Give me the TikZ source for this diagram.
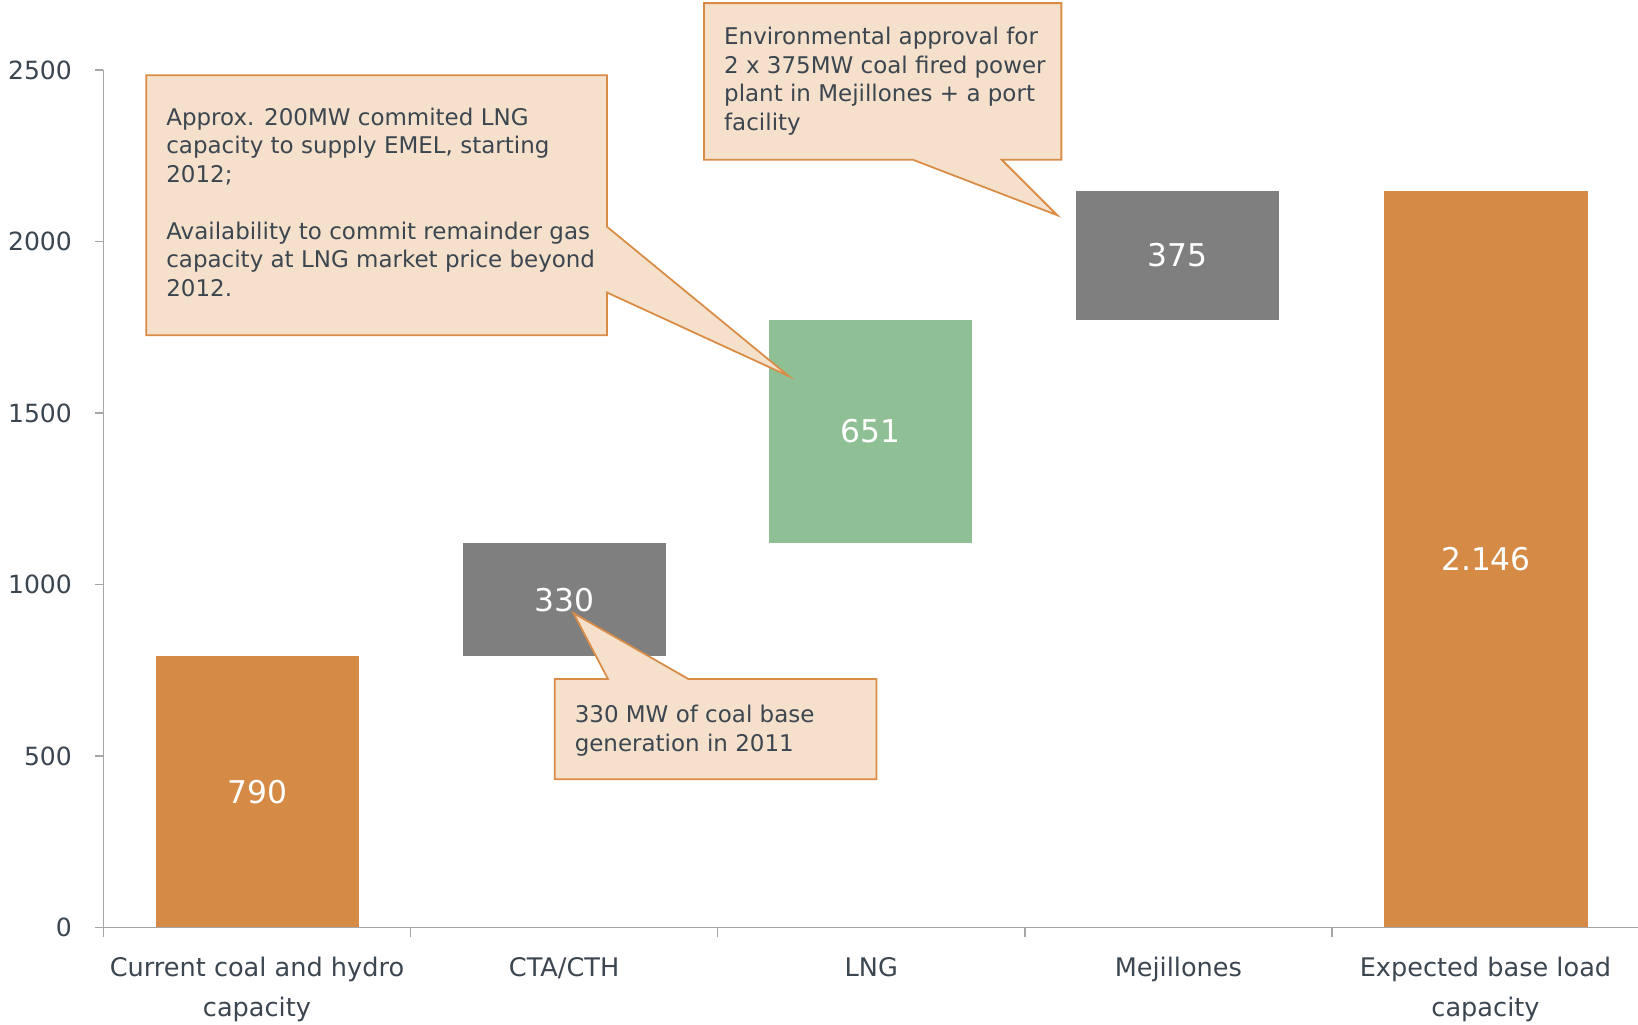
\documentclass[tikz,border=0pt]{standalone}
\usepackage{fontspec}
\setmainfont{DejaVu Sans}
\definecolor{barorange}{HTML}{D58A46}
\definecolor{bargray}{HTML}{7F7F7F}
\definecolor{bargreen}{HTML}{8FC095}
\definecolor{callfill}{HTML}{F5E0CC}
\definecolor{callline}{HTML}{D98C45}
\definecolor{txt}{HTML}{3C4650}
\definecolor{axisgray}{HTML}{A6A6A6}
\begin{document}
\begin{tikzpicture}[x=1pt,y=-1pt,
  bar/.style={rectangle, inner sep=0pt, minimum width=194.5pt, anchor=south west, text=white, font=\fontsize{30}{36}\selectfont},
  callout/.style={fill=callfill, draw=callline, line width=1.7pt, line join=miter},
  ctext/.style={anchor=base west, align=left, inner sep=0pt, text=txt, font=\fontsize{22}{27.3}\selectfont},
  ticklab/.style={anchor=east, inner sep=0pt, text=txt, font=\fontsize{24}{28}\selectfont},
  catlab/.style={anchor=base, align=center, inner sep=0pt, text=txt, font=\fontsize{24.5}{38}\selectfont},
  axisline/.style={draw=axisgray, line width=1.5pt}]
\useasboundingbox (0,0) rectangle (1568,981);
% bars
\node[bar, fill=barorange, minimum height=259.5pt] (b1) at (149,888) {790};
\node[bar, fill=bargray, minimum height=108.4pt] (b2) at (443,628.5) {330};
\node[bar, fill=bargreen, minimum height=213.8pt] (b3) at (736,520.1) {651};
\node[bar, fill=bargray, minimum height=123.2pt] (b4) at (1030,306.3) {375};
\node[bar, fill=barorange, minimum height=704.9pt] (b5) at (1325,888) {2.146};
% axes
\coordinate (ytop) at (99,67);
\coordinate (origin) at (99,888);
\coordinate (xend) at (1568,888);
\draw[axisline] (ytop) -- (origin) -- (xend);
\foreach \v/\y in {0/888,500/723.8,1000/559.6,1500/395.3,2000/231.1,2500/67}{
  \draw[axisline] (91,\y) -- (99,\y);
  \node[ticklab] (t\v) at (69,\y) {\v};
}
\foreach \x in {99,393,687,981,1275}{
  \draw[axisline] (\x,888) -- (\x,897);
}
% category labels (anchor = baseline of last line)
\node[catlab] (c1) at (246,973) {Current coal and hydro\\capacity};
\node[catlab] (c2) at (540,935) {CTA/CTH};
\node[catlab] (c3) at (834,935) {LNG};
\node[catlab] (c4) at (1128,935) {Mejillones};
\node[catlab] (c5) at (1422,973) {Expected base load\\capacity};
% callout 1
\path[callout] (140,72) -- (581,72) -- (581,217) -- (755,360) -- (581,280) -- (581,321) -- (140,321) -- cycle;
\node[ctext] (n1) at (159,283.8) {Approx. 200MW commited LNG\\capacity to supply EMEL, starting\\2012;\\\mbox{}\\Availability to commit remainder gas\\capacity at LNG market price beyond\\2012.};
% callout 2
\path[callout] (674,3) -- (1016,3) -- (1016,153) -- (959,153) -- (1012,206) -- (874,153) -- (674,153) -- cycle;
\node[ctext] (n2) at (693,124.9) {Environmental approval for\\2 x 375MW coal fired power\\plant in Mejillones + a port\\facility};
% callout 3
\path[callout] (531,650) -- (582,650) -- (549,587) -- (659,650) -- (839,650) -- (839,746) -- (531,746) -- cycle;
\node[ctext] (n3) at (550,719) {330 MW of coal base\\generation in 2011};
\end{tikzpicture}
\end{document}
